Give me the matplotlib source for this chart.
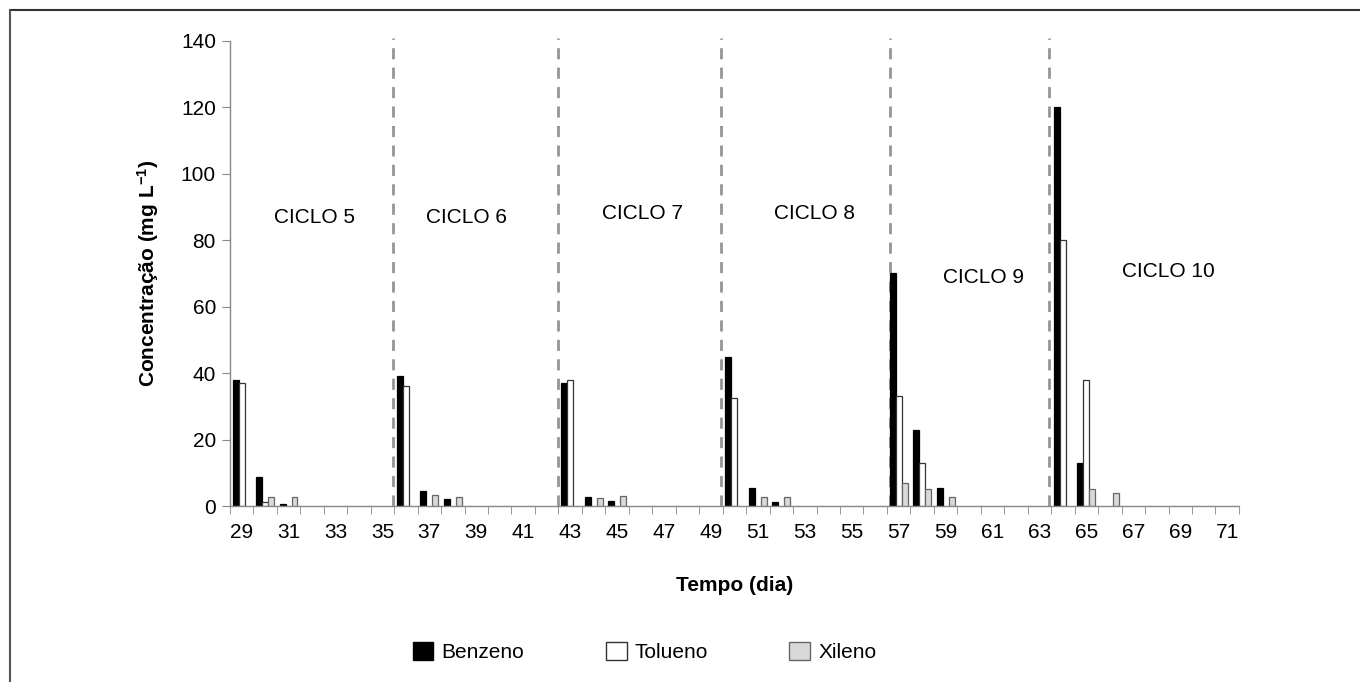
import numpy as np
import matplotlib
matplotlib.use('Agg')
import matplotlib.pyplot as plt
from matplotlib.lines import Line2D
from matplotlib.patches import Patch

plt.rcParams['font.family'] = ['Liberation Sans', 'DejaVu Sans']
plt.rcParams['mathtext.default'] = 'regular'

# dias 29..71
days = np.arange(29, 72)
benzeno = [38, 8.6, 0.5, 0, 0, 0, 0,
           39, 4.6, 2.0, 0, 0, 0, 0,
           37, 2.8, 1.4, 0, 0, 0, 0,
           45, 5.4, 1.3, 0, 0, 0, 0,
           70, 23, 5.3, 0, 0, 0, 0,
           120, 13, 0, 0, 0, 0, 0, 0]
tolueno = [37, 1.1, 0, 0, 0, 0, 0,
           36, 0, 0, 0, 0, 0, 0,
           38, 0, 0, 0, 0, 0, 0,
           32.5, 0, 0, 0, 0, 0, 0,
           33, 13, 0, 0, 0, 0, 0,
           80, 38, 0, 0, 0, 0, 0, 0]
xileno = [0, 2.8, 2.8, 0, 0, 0, 0,
          0, 3.2, 2.6, 0, 0, 0, 0,
          0, 2.5, 2.9, 0, 0, 0, 0,
          0, 2.8, 2.8, 0, 0, 0, 0,
          7, 5.1, 2.6, 0, 0, 0, 0,
          0, 5, 3.8, 0, 0, 0, 0, 0]

cycle_starts = [35.46, 42.5, 49.45, 56.62, 63.4]
cycle_labels = ['CICLO 5', 'CICLO 6', 'CICLO 7', 'CICLO 8', 'CICLO 9', 'CICLO 10']
cycle_label_x = [32.1, 38.6, 46.1, 53.4, 60.6, 68.5]
cycle_label_y = [86.7, 86.7, 88.2, 88.2, 68.7, 70.5]

FS = 15

fig = plt.figure(figsize=(13.6, 6.82), dpi=100)
ax = fig.add_axes([0.169, 0.258, 0.742, 0.682])

w = 0.255
series = [
    (benzeno, -w, 'black', 'black', 'Benzeno'),
    (tolueno, 0, 'white', '#333333', 'Tolueno'),
    (xileno, w, '#d9d9d9', '#666666', 'Xileno'),
]
handles = []
for vals, off, fc, ec, name in series:
    vals = np.asarray(vals, dtype=float)
    m = vals > 0
    ax.bar(days[m] + off, vals[m], width=w, color=fc, edgecolor=ec, linewidth=0.9)
    handles.append(Patch(facecolor=fc, edgecolor=ec, linewidth=1.0, label=name))

for xs in cycle_starts:
    ax.plot([xs, xs], [0, 141], color='#959595', linestyle=(0, (4, 3)),
            linewidth=2, clip_on=False, zorder=0)

for t, x, y in zip(cycle_labels, cycle_label_x, cycle_label_y):
    ax.text(x, y, t, fontsize=FS, ha='center', va='center')

ax.set_xlim(28.5, 71.5)
ax.set_ylim(0, 140)
ax.set_yticks(np.arange(0, 141, 20))
ax.set_xticks(np.arange(29, 72, 2))
ax.set_xticks(np.arange(28.5, 72, 1), minor=True)
ax.tick_params(axis='x', which='major', length=0, labelsize=FS, pad=12)
ax.tick_params(axis='x', which='minor', length=6, color='#888888')
ax.tick_params(axis='y', length=6, color='#888888', labelsize=FS, pad=4)

for s in ['top', 'right']:
    ax.spines[s].set_visible(False)
for s in ['left', 'bottom']:
    ax.spines[s].set_color('#888888')
    ax.spines[s].set_linewidth(1.0)

ax.set_ylabel('Concentração (mg L$^{-1}$)', fontsize=FS, fontweight='bold', labelpad=14)
ax.set_xlabel('Tempo (dia)', fontsize=FS, fontweight='bold', labelpad=25)

fig.legend(handles=handles, loc='center', bbox_to_anchor=(0.474, 0.044), ncol=3,
           frameon=False, fontsize=FS, handlelength=1.0, handleheight=1.0,
           handletextpad=0.4, columnspacing=3.9)

# borda parcial da figura
fig.add_artist(Line2D([0.0074, 1.0], [0.985, 0.985], color='#333333', linewidth=1.5))
fig.add_artist(Line2D([0.0074, 0.0074], [0.0, 0.985], color='#555555', linewidth=1.5))

fig.savefig('out.png', dpi=100)
